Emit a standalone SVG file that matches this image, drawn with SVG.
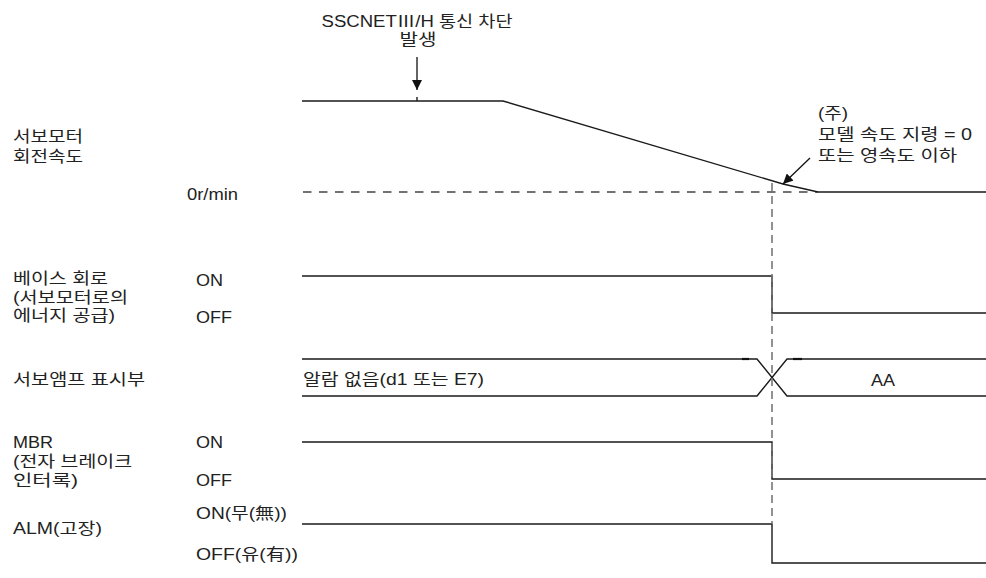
<svg xmlns="http://www.w3.org/2000/svg" width="986" height="578" viewBox="0 0 986 578">
<defs>
<style>
text{font-family:"Liberation Sans","Noto Sans CJK KR",sans-serif;font-size:16px;fill:#222}
.sig{fill:none;stroke:#1a1a1a;stroke-width:1.4}
.dash{fill:none;stroke:#444;stroke-width:1.4;stroke-dasharray:8.5 7.5}
.vdash{fill:none;stroke:#777;stroke-width:1.6;stroke-dasharray:8 5}
.tick{fill:none;stroke:#111;stroke-width:2.2}
</style>
<marker id="ah" viewBox="0 0 10 10" refX="10" refY="5" markerWidth="10" markerHeight="10" markerUnits="userSpaceOnUse" orient="auto">
<path d="M0,0 L10,5 L0,10 z" fill="#111"/>
</marker>
</defs>
<rect width="986" height="578" fill="#fff"/>

<g id="event-label">
<text x="417" y="27" text-anchor="middle" textLength="191" lengthAdjust="spacingAndGlyphs">SSCNETⅢ/H 통신 차단</text>
<text x="418" y="45" text-anchor="middle" textLength="37" lengthAdjust="spacingAndGlyphs">발생</text>
</g>

<g id="note-label">
<text x="818" y="119" textLength="30" lengthAdjust="spacingAndGlyphs">(주)</text>
<text x="818" y="140" textLength="154" lengthAdjust="spacingAndGlyphs">모델 속도 지령 = 0</text>
<text x="818" y="161" textLength="139" lengthAdjust="spacingAndGlyphs">또는 영속도 이하</text>
</g>

<g id="speed-row">
<text x="13" y="142" textLength="70" lengthAdjust="spacingAndGlyphs">서보모터</text>
<text x="13" y="162" textLength="70" lengthAdjust="spacingAndGlyphs">회전속도</text>
<text x="187" y="200" textLength="51" lengthAdjust="spacingAndGlyphs">0r/min</text>
<line class="dash" x1="303" y1="192" x2="818" y2="192"/>
<polyline class="sig" points="302,101 503,101 783,184 818,192 986,192"/>
<line class="sig" x1="417" y1="97" x2="417" y2="101" stroke-width="1"/>
</g>

<g id="base-row">
<text x="13" y="284" textLength="95" lengthAdjust="spacingAndGlyphs">베이스 회로</text>
<text x="13" y="303" textLength="115" lengthAdjust="spacingAndGlyphs">(서보모터로의</text>
<text x="13" y="321" textLength="102" lengthAdjust="spacingAndGlyphs">에너지 공급)</text>
<text x="196" y="286" textLength="27" lengthAdjust="spacingAndGlyphs">ON</text>
<text x="196" y="323" textLength="36" lengthAdjust="spacingAndGlyphs">OFF</text>
<polyline class="sig" points="302,276 772,276 772,313 986,313"/>
</g>

<g id="display-row">
<text x="13" y="385" textLength="132" lengthAdjust="spacingAndGlyphs">서보앰프 표시부</text>
<text x="303" y="385" textLength="181" lengthAdjust="spacingAndGlyphs">알람 없음(d1 또는 E7)</text>
<text x="883" y="386" text-anchor="middle" textLength="24" lengthAdjust="spacingAndGlyphs">AA</text>
<polyline class="sig" points="302,359 757,359 787,396 986,396"/>
<polyline class="sig" points="302,396 757,396 787,359 986,359"/>
<line class="tick" x1="742" y1="359" x2="749" y2="359"/>
<line class="tick" x1="793" y1="359" x2="802" y2="359"/>
</g>

<g id="mbr-row">
<text x="13" y="448" textLength="40" lengthAdjust="spacingAndGlyphs">MBR</text>
<text x="13" y="467" textLength="119" lengthAdjust="spacingAndGlyphs">(전자 브레이크</text>
<text x="13" y="486" textLength="65" lengthAdjust="spacingAndGlyphs">인터록)</text>
<text x="196" y="448" textLength="27" lengthAdjust="spacingAndGlyphs">ON</text>
<text x="196" y="486" textLength="36" lengthAdjust="spacingAndGlyphs">OFF</text>
<polyline class="sig" points="302,442 772,442 772,479 986,479"/>
</g>

<g id="alm-row">
<text x="13" y="534" textLength="89" lengthAdjust="spacingAndGlyphs">ALM(고장)</text>
<text x="196" y="519" textLength="91" lengthAdjust="spacingAndGlyphs">ON(무(無))</text>
<text x="196" y="560" textLength="102" lengthAdjust="spacingAndGlyphs">OFF(유(有))</text>
<polyline class="sig" points="302,524 772,524 772,563 986,563"/>
</g>

<g id="connectors">
<line class="vdash" x1="772" y1="183" x2="772" y2="524"/>
<line x1="417" y1="57" x2="417" y2="90" stroke="#111" stroke-width="1.3" marker-end="url(#ah)"/>
<line x1="810" y1="158" x2="783" y2="184" stroke="#111" stroke-width="1.3" marker-end="url(#ah)"/>
</g>
</svg>
